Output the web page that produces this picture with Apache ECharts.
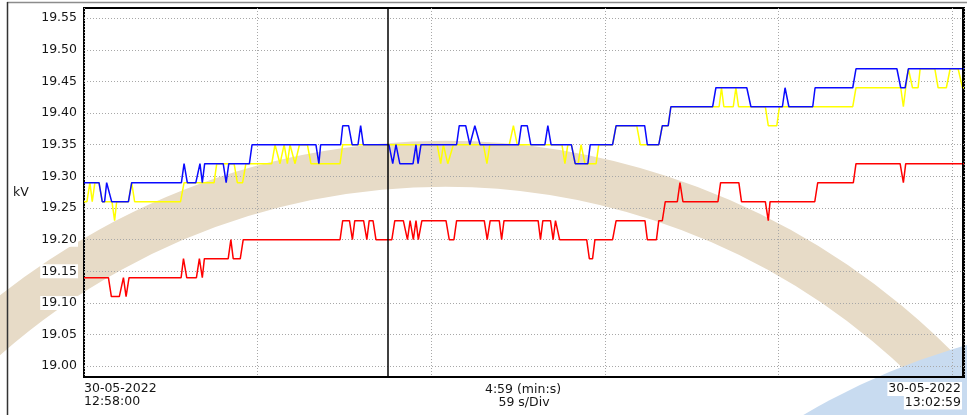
<!DOCTYPE html>
<html>
<head>
<meta charset="utf-8">
<script src="https://cdn.jsdelivr.net/npm/echarts@6.0.0/dist/echarts.min.js"></script>
<style>
  html, body { margin: 0; padding: 0; background: #fff; }
  #chart { width: 967px; height: 415px; }
</style>
</head>
<body>
<div id="chart"></div>
<script>
// seconds from 12:58:00 and kV readings at each step of the trace
const redTime = [0, 8.3, 9.3, 12.0, 13.4, 14.3, 15.3, 33.0, 33.8, 34.9, 38.2, 39.2, 40.2, 40.9, 49.0, 49.9, 50.7, 53.1, 54.1,
  87.0, 87.9, 90.2, 91.2, 92.0, 95.0, 96.1, 96.9, 98.2, 99.2, 104.6, 105.6, 108.5, 109.9, 110.8, 111.9, 112.8, 113.6, 114.8,
  123.0, 124.1, 125.7, 126.6, 136.0, 137.0, 138.0, 141.1, 141.9, 142.7, 154.3, 155.1, 155.9, 158.5, 159.4, 160.2, 160.7, 161.6,
  170.8, 171.7, 172.8, 173.6, 179.6, 180.8, 190.6, 191.4, 194.5, 195.3, 196.5, 197.5, 201.6, 202.5, 203.5, 215.4, 216.3,
  222.5, 223.4, 231.5, 232.5, 233.1, 248.3, 249.3, 261.4, 262.3, 277.3, 278.4, 279.2, 299];
const redKv = [19.14, 19.14, 19.11, 19.11, 19.14, 19.11, 19.14, 19.14, 19.17, 19.14, 19.14, 19.17, 19.14, 19.17, 19.17, 19.20, 19.17, 19.17, 19.20,
  19.20, 19.23, 19.23, 19.20, 19.23, 19.23, 19.20, 19.23, 19.23, 19.20, 19.20, 19.23, 19.23, 19.20, 19.23, 19.20, 19.23, 19.20, 19.23,
  19.23, 19.20, 19.20, 19.23, 19.23, 19.20, 19.23, 19.23, 19.20, 19.23, 19.23, 19.20, 19.23, 19.23, 19.20, 19.23, 19.23, 19.20,
  19.20, 19.17, 19.17, 19.20, 19.20, 19.23, 19.23, 19.20, 19.20, 19.23, 19.23, 19.26, 19.26, 19.29, 19.26, 19.26, 19.29,
  19.29, 19.26, 19.26, 19.23, 19.26, 19.26, 19.29, 19.29, 19.32, 19.32, 19.29, 19.32, 19.32];

const yellowTime = [0, 1.0, 2.0, 2.8, 3.7, 5.1, 6.2, 9.5, 10.4, 11.1, 15.1, 16.2, 17.2, 32.8, 34.0, 44.2, 45.1, 51.0, 52.1, 53.9, 55.0,
  63.8, 64.9, 66.6, 68.0, 69.1, 70.0, 71.7, 73.2, 75.9, 77.1, 87.0, 87.9, 120.0, 121.2, 122.1, 123.6, 125.5, 135.7, 136.9, 137.9,
  144.5, 145.9, 147.2, 162.4, 163.4, 164.4, 165.6, 166.9, 167.9, 168.9, 170.2, 174.0, 174.9, 179.6, 180.8, 187.8, 189.0,
  195.3, 196.5, 198.5, 199.4, 215.8, 216.6, 217.4, 220.6, 221.5, 222.4, 231.5, 232.5, 235.4, 236.3, 261.2, 262.3,
  277.5, 278.4, 279.2, 280.1, 280.5, 281.5, 283.4, 284.1, 289.1, 290.2, 293.0, 294.3, 297.0, 298.5, 299];
const yellowKv = [19.26, 19.26, 19.29, 19.26, 19.29, 19.29, 19.26, 19.26, 19.23, 19.26, 19.26, 19.29, 19.26, 19.26, 19.29, 19.29, 19.32, 19.32, 19.29, 19.29, 19.32,
  19.32, 19.35, 19.32, 19.35, 19.32, 19.35, 19.32, 19.35, 19.35, 19.32, 19.32, 19.35, 19.35, 19.32, 19.35, 19.32, 19.35, 19.35, 19.32, 19.35,
  19.35, 19.38, 19.35, 19.35, 19.32, 19.35, 19.35, 19.32, 19.32, 19.35, 19.32, 19.32, 19.35, 19.35, 19.38, 19.38, 19.35,
  19.35, 19.38, 19.38, 19.41, 19.41, 19.44, 19.41, 19.41, 19.44, 19.41, 19.41, 19.38, 19.38, 19.41, 19.41, 19.44,
  19.44, 19.41, 19.44, 19.47, 19.47, 19.44, 19.44, 19.47, 19.47, 19.44, 19.44, 19.47, 19.47, 19.44, 19.44];

const blueTime = [0, 5.1, 6.2, 7.0, 7.7, 8.3, 9.4, 15.1, 16.2, 33.1, 34.0, 35.1, 38.0, 39.4, 40.2, 41.0, 47.3, 48.3, 49.2, 56.2, 57.1,
  78.8, 79.8, 80.4, 87.2, 87.9, 89.9, 91.1, 93.1, 94.0, 94.9, 103.6, 104.9, 106.0, 107.3, 111.8, 112.8, 113.5, 114.5,
  126.6, 127.5, 129.7, 131.1, 132.8, 134.6, 147.7, 148.6, 150.6, 151.8, 156.6, 157.6, 158.7, 165.6, 166.9, 171.2, 172.0,
  179.6, 180.8, 190.5, 191.4, 195.3, 196.5, 198.5, 199.4, 213.6, 214.7, 225.2, 226.6, 237.3, 238.2, 239.5, 247.6, 248.4,
  261.2, 262.3, 276.2, 277.5, 279.0, 280.1, 299];
const blueKv = [19.29, 19.29, 19.26, 19.26, 19.29, 19.29, 19.26, 19.26, 19.29, 19.29, 19.32, 19.29, 19.29, 19.32, 19.29, 19.32, 19.32, 19.29, 19.32, 19.32, 19.35,
  19.35, 19.32, 19.35, 19.35, 19.38, 19.38, 19.35, 19.35, 19.38, 19.35, 19.35, 19.32, 19.35, 19.32, 19.32, 19.35, 19.32, 19.35,
  19.35, 19.38, 19.38, 19.35, 19.38, 19.35, 19.35, 19.38, 19.38, 19.35, 19.35, 19.38, 19.35, 19.35, 19.32, 19.32, 19.35,
  19.35, 19.38, 19.38, 19.35, 19.35, 19.38, 19.38, 19.41, 19.41, 19.44, 19.44, 19.41, 19.41, 19.44, 19.41, 19.41, 19.44,
  19.44, 19.47, 19.47, 19.44, 19.44, 19.47, 19.47];

const yTicks = [19.00, 19.05, 19.10, 19.15, 19.20, 19.25, 19.30, 19.35, 19.40, 19.45, 19.50, 19.55];
const cursorTime = [103.1];

const FONT = 'DejaVu Sans';
const TXT = '#161616';

function pairs(t, v) {
  return t.map((x, i) => [x, v[i]]);
}

function label(text, x, y, align, bg) {
  return {
    type: 'text', x: x, y: y, silent: true, z: 10,
    style: {
      text: text, fill: TXT, font: '12.5px "' + FONT + '"',
      align: align, verticalAlign: 'middle',
      backgroundColor: bg || 'transparent', padding: bg ? [1, 1, 0, 1] : 0
    }
  };
}

const chart = echarts.init(document.getElementById('chart'));

chart.setOption({
  animation: false,
  backgroundColor: '#fff',
  grid: {
    left: 84, top: 8, width: 880, height: 369,
    show: true, borderColor: '#000', borderWidth: 2, backgroundColor: 'transparent'
  },
  xAxis: {
    type: 'value', min: 0, max: 299, interval: 59,
    axisLine: { show: false }, axisTick: { show: false }, axisLabel: { show: false },
    splitLine: { show: true, lineStyle: { color: '#a8a8a8', width: 1, type: [1, 2] } }
  },
  yAxis: {
    type: 'value', min: 18.983, max: 19.566,
    axisLine: { show: false },
    axisTick: { show: false, customValues: yTicks },
    axisLabel: {
      customValues: yTicks, formatter: v => v.toFixed(2),
      color: TXT, fontFamily: FONT, fontSize: 12.5, margin: 6,
      backgroundColor: '#fff', padding: [1, 1, 0, 1]
    },
    splitLine: { show: true, lineStyle: { color: '#a8a8a8', width: 1, type: [1, 2] } }
  },
  graphic: [
    // watermark behind the plot
    {
      type: 'arc', silent: true, z: -10,
      shape: { cx: 444.5, cy: 857.6, r: 693.7, startAngle: -2.45, endAngle: -0.70 },
      style: { stroke: '#e7dbc7', lineWidth: 46, fill: null }
    },
    {
      type: 'circle', silent: true, z: -9,
      shape: { cx: 1150, cy: 1000, r: 680 },
      style: { fill: '#c8dbf0' }
    },
    // outer panel edge
    { type: 'line', silent: true, z: 5, shape: { x1: 7, y1: 2.5, x2: 967, y2: 2.5 }, style: { stroke: '#8c8c8c', lineWidth: 1.5 } },
    { type: 'line', silent: true, z: 5, shape: { x1: 7.5, y1: 2, x2: 7.5, y2: 415 }, style: { stroke: '#333', lineWidth: 1.5 } },
    // heavier right edge of the plot frame
    { type: 'line', silent: true, z: 5, shape: { x1: 962.5, y1: 8, x2: 962.5, y2: 377 }, style: { stroke: '#000', lineWidth: 1 } },
    label('kV', 13, 193, 'left'),
    label('30-05-2022', 84, 389, 'left'),
    label('12:58:00', 84, 402, 'left'),
    label('4:59 (min:s)', 523, 390, 'center'),
    label('59 s/Div', 524, 402.5, 'center'),
    label('30-05-2022', 962, 389, 'right', '#fff'),
    label('13:02:59', 962, 402.5, 'right', '#fff')
  ],
  series: [
    {
      name: 'red', type: 'line', data: pairs(redTime, redKv),
      showSymbol: false, symbol: 'none', z: 3,
      lineStyle: { color: '#ff0000', width: 1.5 }, itemStyle: { color: '#ff0000' }
    },
    {
      name: 'yellow', type: 'line', data: pairs(yellowTime, yellowKv),
      showSymbol: false, symbol: 'none', z: 3,
      lineStyle: { color: '#ffff00', width: 1.5 }, itemStyle: { color: '#ffff00' }
    },
    {
      name: 'blue', type: 'line', data: pairs(blueTime, blueKv),
      showSymbol: false, symbol: 'none', z: 4,
      lineStyle: { color: '#0a0aff', width: 1.5 }, itemStyle: { color: '#0a0aff' },
      markLine: {
        silent: true, symbol: ['none', 'none'], label: { show: false },
        lineStyle: { color: '#000', width: 1.5, type: 'solid' },
        data: cursorTime.map(t => ({ xAxis: t }))
      }
    }
  ]
});
</script>
</body>
</html>
